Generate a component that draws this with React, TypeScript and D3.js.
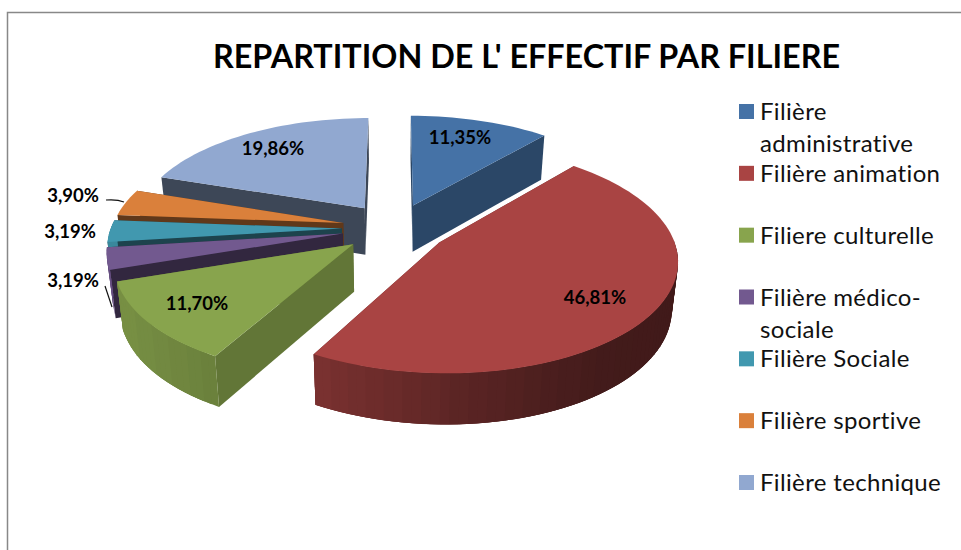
import React from 'react'
import * as d3 from 'd3'

const title = "REPARTITION DE L' EFFECTIF PAR FILIERE"
const categories = [
  ['Filière', 'administrative'],
  ['Filière animation'],
  ['Filiere culturelle'],
  ['Filière médico-', 'sociale'],
  ['Filière Sociale'],
  ['Filière sportive'],
  ['Filière technique'],
]
const shares = [11.35, 46.81, 11.7, 3.19, 3.19, 3.9, 19.86]

const colors = ['#4572a6', '#a94443', '#88a44d', '#72598f', '#4198af', '#da803b', '#91a8d0']
const edgeShade = [0.62, 0.62, 0.72, 0.44, 0.44, 0.44, 0.42]
const paintOrder = [6, 0, 5, 4, 3, 2, 1]
const labelPos = [[460, 138], [595, 298], [197, 304], [73, 281], [70, 232], [73, 196], [273, 149]]

const width = 961
const height = 550
const cx = 395
const cy = 228
const rx = 231
const ry = 108
const persp = 0.14
const explode = 0.23
const depth = 47

type Pt = [number, number]

const project = (u: number, v: number, bottom = false): Pt => {
  const w = 1 / (1 - persp * v)
  const x = cx + rx * u * w
  const y = cy + ry * v * w
  if (!bottom) return [x, y]
  return [x + (cx - x) * 0.022, y + depth * Math.sqrt(w)]
}

const shade = (c: string, k: number) => {
  const col = d3.rgb(c)
  return d3.rgb(col.r * k, col.g * k, col.b * k).formatHex()
}

const wallLight = d3.scaleLinear()
  .domain([100, 220, 320, 450, 600, 680])
  .range([0.9, 0.78, 0.72, 0.56, 0.4, 0.38])
  .clamp(true)

const line = d3.line()
const pct = (v: number) => d3.format('.2f')(v).replace('.', ',') + '%'

const arcs = d3.pie<number>().sort(null).startAngle(0).endAngle(2 * Math.PI)(shares)

const legendY = d3.scaleLinear().domain([0, 6]).range([104, 475])

function Slice({ index }: { index: number }) {
  const a = arcs[index]
  const mid = (a.startAngle + a.endAngle) / 2
  const ou = explode * Math.sin(mid)
  const ov = -explode * Math.cos(mid)
  const angles = d3.range(a.startAngle, a.endAngle, 0.035).concat(a.endAngle)
  const rim = (t: number, bottom = false) => project(ou + Math.sin(t), ov - Math.cos(t), bottom)
  const apex = project(ou, ov)
  const apexB = project(ou, ov, true)
  const color = colors[index]
  const edge = (t: number) => line([apex, rim(t), rim(t, true), apexB] as Pt[]) + 'Z'
  const edgeColor = shade(color, edgeShade[index])
  return (
    <g>
      <path d={edge(a.endAngle)} fill={edgeColor} />
      <path d={edge(a.startAngle)} fill={edgeColor} />
      {angles.slice(1).map((t, i) => {
        // only the part of the rim that faces the viewer
        if (Math.cos(angles[i]) > 0.02) return null
        const p0 = rim(angles[i])
        const next = angles[Math.min(i + 3, angles.length - 1)]
        const band = Math.round(p0[0] / 18) * 18
        return (
          <path
            key={i}
            d={line([p0, rim(next), rim(next, true), rim(angles[i], true)] as Pt[]) + 'Z'}
            fill={shade(color, wallLight(band))}
          />
        )
      })}
      <path d={line([apex, ...angles.map((t) => rim(t))] as Pt[]) + 'Z'} fill={color} />
    </g>
  )
}

export default function App() {
  const font = 'Lato, "Open Sans", sans-serif'
  return (
    <svg
      width={width}
      height={height}
      style={{ position: 'absolute', left: 0, top: 0, background: '#fff' }}
    >
      <path d="M7.5,550V12.5H961" fill="none" stroke="#888" strokeWidth={1.5} />
      <text
        x={526.5}
        y={68}
        textAnchor="middle"
        fontFamily={font}
        fontWeight={700}
        fontSize={32}
        textLength={627}
        lengthAdjust="spacingAndGlyphs"
        fill="#000"
      >
        {title}
      </text>

      {paintOrder.map((i) => (
        <Slice key={i} index={i} />
      ))}

      <path d="M106,200C112,199.5 118,199.5 124,202" fill="none" stroke="#111" strokeWidth={1.2} />
      <path d="M105,286L112,307" fill="none" stroke="#111" strokeWidth={1.2} />

      {shares.map((v, i) => (
        <text
          key={i}
          x={labelPos[i][0]}
          y={labelPos[i][1] + 6}
          textAnchor="middle"
          fontFamily={font}
          fontWeight={700}
          fontSize={18.5}
          fill="#000"
        >
          {pct(v)}
        </text>
      ))}

      {categories.map((lines, i) => (
        <g key={i}>
          <rect x={739} y={legendY(i)} width={15} height={15} fill={colors[i]} />
          {lines.map((t, j) => (
            <text
              key={j}
              x={760}
              y={legendY(i) + 16 + j * 32}
              fontFamily={font}
              fontSize={24}
              letterSpacing={0.35}
              fill="#111"
            >
              {t}
            </text>
          ))}
        </g>
      ))}
    </svg>
  )
}
